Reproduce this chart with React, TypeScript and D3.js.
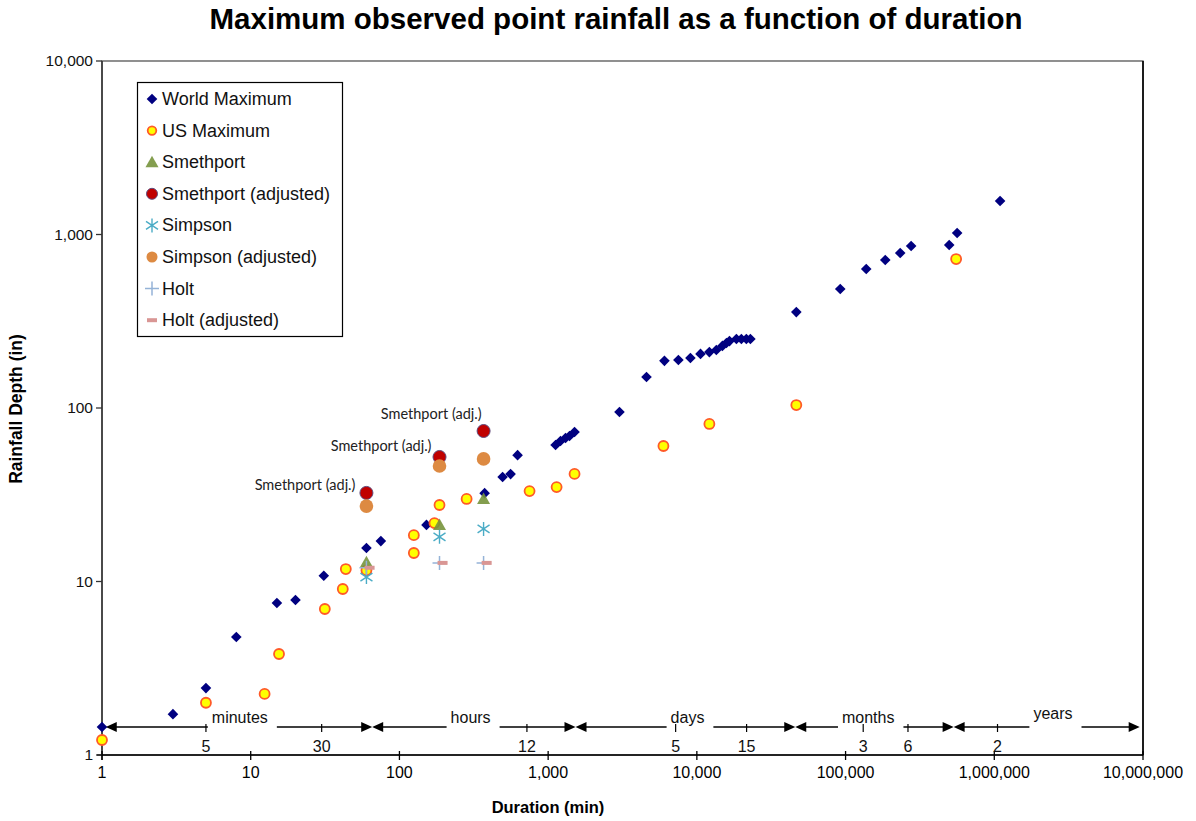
import React from "react";
import * as d3 from "d3";

const W = 1196;
const H = 821;

// World Maximum
const worldX = [1, 3, 5, 8, 15, 20, 31, 60, 75, 152, 374, 494, 559, 623, 1122, 1211, 1309, 1392, 1505, 3017, 4585, 6053, 7513, 9050, 10580, 12140, 13520, 14850, 15810, 16570, 18450, 19920, 21520, 22910, 46650, 92100, 137700, 184900, 233000, 276000, 497600, 562600, 1094000];
const worldY = [1.45, 1.72, 2.43, 4.79, 7.52, 7.82, 10.8, 15.6, 17.1, 21.2, 32.3, 40, 41.6, 53.5, 61.2, 64.5, 67.2, 69, 72.7, 94.8, 151, 187, 189, 194, 205, 210, 216, 228, 237, 243, 250, 250, 250, 250, 357, 485, 633, 713, 782, 859, 870, 1020, 1560];

// US Maximum
const usX = [1, 5, 12.4, 15.5, 31.5, 41.6, 43.6, 60, 125, 125, 172, 186, 283, 750, 1140, 1505, 5960, 12140, 46650, 554000];
const usY = [1.22, 2.0, 2.25, 3.82, 6.94, 9.05, 11.8, 11.6, 14.6, 18.5, 21.7, 27.6, 29.9, 33.2, 35, 41.7, 60.4, 80.9, 104, 722];

// Storm durations (min)
const stormX = [60, 186, 368];
const smethportY = [12.9, 21.2, 29.9];
const smethportAdjY = [32.4, 52.2, 73.7];
const simpsonY = [10.6, 18.1, 20.1];
const simpsonAdjY = [27.2, 46.3, 50.9];
const holtY = [12, 12.8, 12.8];
const holtAdjX = [63, 195, 386];
const holtAdjY = [12, 12.8, 12.8];

const annotationText = "Smethport (adj.)";

const xTicks = [1, 10, 100, 1000, 10000, 100000, 1000000, 10000000];
const yTicks = [1, 10, 100, 1000, 10000];

// Time-unit bands along bottom (duration in minutes)
const unitNames = ["minutes", "hours", "days", "months", "years"];
const unitBounds = [1.06, 65.6, 1528, 45900, 533000, 9500000];
const unitLabelAt = [8.45, 301, 8650, 142000, 2480000];
const unitTickLabels = ["5", "30", "12", "5", "15", "3", "6", "2"];
const unitTickValues = [5, 30, 720, 7200, 21600, 131400, 262800, 1051200];

const legendNames = [
  "World Maximum",
  "US Maximum",
  "Smethport",
  "Smethport (adjusted)",
  "Simpson",
  "Simpson (adjusted)",
  "Holt",
  "Holt (adjusted)",
];

const x = d3.scaleLog().domain([1, 1e7]).range([102, 1143]);
const y = d3.scaleLog().domain([1, 1e4]).range([755, 61]);
const fmt = d3.format(",");

const FONT = "'Liberation Sans', Arial, sans-serif";

type MarkerKind = "diamond" | "usCircle" | "triangle" | "redCircle" | "star" | "orangeCircle" | "plus" | "dash";

function Marker({ kind, cx, cy, legend = false }: { kind: MarkerKind; cx: number; cy: number; legend?: boolean }) {
  const t = `translate(${cx},${cy})`;
  switch (kind) {
    case "diamond":
      return <path transform={t} d="M0,-5.3L5.3,0L0,5.3L-5.3,0Z" fill="#000080" />;
    case "usCircle":
      return <circle cx={cx} cy={cy} r={legend ? 4.3 : 5} fill="#ffff00" stroke="#ff5a28" strokeWidth={1.8} />;
    case "triangle":
      return <path transform={t} d="M0,-6.5L6.5,5L-6.5,5Z" fill="#77933c" opacity={0.9} />;
    case "redCircle":
      return <circle cx={cx} cy={cy} r={legend ? 5.5 : 6.5} fill="#c00000" stroke="#604a7b" strokeWidth={1} />;
    case "star":
      return (
        <path transform={t} d="M0,-7L0,7M-6,-4L6,4M-6,4L6,-4" stroke="#4bacc6" strokeWidth={1.4} fill="none" />
      );
    case "orangeCircle":
      return <circle cx={cx} cy={cy} r={legend ? 5.5 : 6.8} fill="#dd8a42" />;
    case "plus":
      return <path transform={t} d="M-7,0L7,0M0,-7L0,7" stroke="#95b3d7" strokeWidth={1.5} fill="none" />;
    case "dash":
      return <rect x={cx - 5} y={cy - 2} width={10} height={4} fill="#d99694" />;
  }
}

const legendKinds: MarkerKind[] = ["diamond", "usCircle", "triangle", "redCircle", "star", "orangeCircle", "plus", "dash"];

function Arrow({ x1, x2, yy, dir }: { x1: number; x2: number; yy: number; dir: "left" | "right" }) {
  const tip = dir === "left" ? x1 : x2;
  const s = dir === "left" ? 1 : -1;
  return (
    <g>
      <line x1={dir === "left" ? x1 + 8 : x1} x2={dir === "right" ? x2 - 8 : x2} y1={yy} y2={yy} stroke="#000" strokeWidth={1.5} />
      <path d={`M${tip},${yy}L${tip + s * 11},${yy - 5}L${tip + s * 11},${yy + 5}Z`} fill="#000" />
    </g>
  );
}

function textW(str: string, size: number) {
  const widths: Record<string, number> = {
    m: 0.833, i: 0.222, n: 0.556, u: 0.556, t: 0.278, e: 0.556, s: 0.5, h: 0.556, o: 0.556, r: 0.333,
    d: 0.556, a: 0.556, y: 0.5,
  };
  let w = 0;
  for (const c of str) w += widths[c] ?? 0.556;
  return w * size;
}

export default function App() {
  const arrowY = 727;
  const unitFont = 16;

  const stormSeries: { xs: number[]; ys: number[]; kind: MarkerKind }[] = [
    { xs: stormX, ys: smethportY, kind: "triangle" },
    { xs: stormX, ys: smethportAdjY, kind: "redCircle" },
    { xs: stormX, ys: simpsonY, kind: "star" },
    { xs: stormX, ys: simpsonAdjY, kind: "orangeCircle" },
    { xs: stormX, ys: holtY, kind: "plus" },
    { xs: holtAdjX, ys: holtAdjY, kind: "dash" },
  ];

  const annDx = [-11, -8, -2];
  const annDy = [-3, -6, -12];

  return (
    <svg width={W} height={H} style={{ position: "absolute", left: 0, top: 0, display: "block", background: "#fff" }} fontFamily={FONT}>
      <rect x={0} y={0} width={W} height={H} fill="#fff" />
      {/* Title */}
      <text x={616} y={29} textAnchor="middle" fontSize={29.5} fontWeight="bold" fill="#000">
        Maximum observed point rainfall as a function of duration
      </text>

      {/* Plot frame */}
      <rect x={x(1)} y={y(1e4)} width={x(1e7) - x(1)} height={y(1) - y(1e4)} fill="none" stroke="#555" strokeWidth={1.3} />
      <line x1={x(1e7)} x2={x(1e7)} y1={y(1e4)} y2={y(1)} stroke="#000" strokeWidth={1.6} />
      <line x1={x(1)} x2={x(1)} y1={y(1e4)} y2={y(1) + 5} stroke="#333" strokeWidth={1.5} />
      <line x1={x(1) - 5} x2={x(1e7)} y1={y(1)} y2={y(1)} stroke="#000" strokeWidth={1.5} />

      {/* Y ticks */}
      {yTicks.map((v) => (
        <g key={"yt" + v}>
          <line x1={x(1) - 6} x2={x(1)} y1={y(v)} y2={y(v)} stroke="#333" strokeWidth={1.3} />
          <text x={x(1) - 9} y={y(v) + 5} textAnchor="end" fontSize={15.5} fill="#111">
            {fmt(v)}
          </text>
        </g>
      ))}
      {/* X ticks */}
      {xTicks.map((v) => (
        <g key={"xt" + v}>
          <line x1={x(v)} x2={x(v)} y1={y(1) - 4} y2={y(1) + 5} stroke="#000" strokeWidth={1.3} />
          <text x={x(v)} y={y(1) + 23} textAnchor="middle" fontSize={16} fill="#000">
            {fmt(v)}
          </text>
        </g>
      ))}

      {/* Axis titles */}
      <text x={548} y={813} textAnchor="middle" fontSize={16.5} fontWeight="bold" fill="#000">
        Duration (min)
      </text>
      <text transform="translate(22,409) rotate(-90)" textAnchor="middle" fontSize={17.5} fontWeight="bold" fill="#000">
        Rainfall Depth (in)
      </text>

      {/* Time unit arrows */}
      {unitNames.map((name, i) => {
        const a = x(unitBounds[i]);
        const b = x(unitBounds[i + 1]);
        const c = x(unitLabelAt[i]);
        const w = textW(name, unitFont);
        const gl = c - w / 2 - 4;
        const gr = c + w / 2 + 9;
        return (
          <g key={name}>
            <Arrow x1={a} x2={gl} yy={arrowY} dir="left" />
            <Arrow x1={gr} x2={b} yy={arrowY} dir="right" />
            <text x={c} y={arrowY + (name === "years" ? -8 : -4)} textAnchor="middle" fontSize={unitFont} fill="#111">
              {name}
            </text>
          </g>
        );
      })}
      {unitTickValues.map((v, i) => (
        <g key={"ut" + i}>
          <line x1={x(v)} x2={x(v)} y1={arrowY - 3} y2={arrowY + 5} stroke="#000" strokeWidth={1.2} />
          <text x={x(v)} y={arrowY + 25} textAnchor="middle" fontSize={16} fill="#111">
            {unitTickLabels[i]}
          </text>
        </g>
      ))}

      {/* Data */}
      {worldX.map((v, i) => (
        <Marker key={"w" + i} kind="diamond" cx={x(v)} cy={y(worldY[i])} />
      ))}
      {usX.map((v, i) => (
        <Marker key={"u" + i} kind="usCircle" cx={x(v)} cy={y(usY[i])} />
      ))}
      {stormSeries.map((s, si) =>
        s.xs.map((v, i) => <Marker key={"s" + si + "-" + i} kind={s.kind} cx={x(v)} cy={y(s.ys[i])} />)
      )}

      {/* Annotations */}
      {stormX.map((v, i) => (
        <text
          key={"ann" + i}
          x={x(v) + annDx[i]}
          y={y(smethportAdjY[i]) + annDy[i]}
          textAnchor="end"
          fontSize={14.5}
          fontFamily="Lato, 'Open Sans', sans-serif"
          fill="#222"
        >
          {annotationText}
        </text>
      ))}

      {/* Legend */}
      <rect x={137.5} y={82.5} width={205} height={254} fill="#fff" stroke="#000" strokeWidth={1.2} />
      {legendNames.map((name, i) => {
        const cy = 99 + i * 31.6;
        return (
          <g key={"lg" + i}>
            <Marker kind={legendKinds[i]} cx={152} cy={cy} legend />
            <text x={162} y={cy + 6} fontSize={18} fill="#111">
              {name}
            </text>
          </g>
        );
      })}
    </svg>
  );
}
